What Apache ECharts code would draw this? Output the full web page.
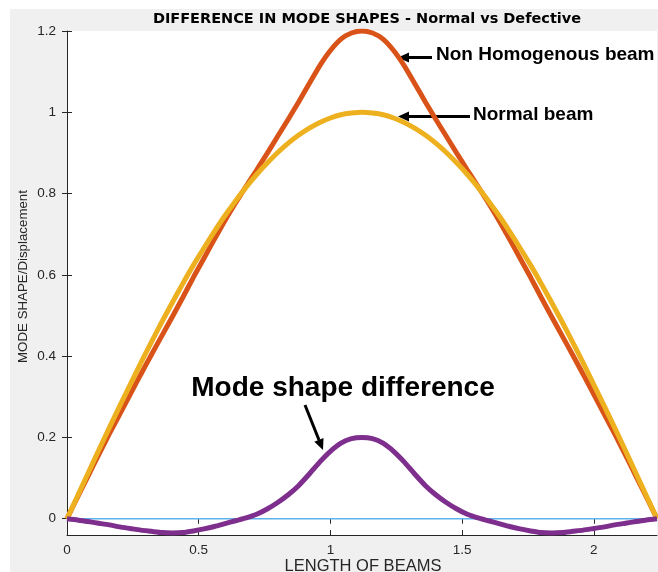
<!DOCTYPE html>
<html>
<head>
<meta charset="utf-8">
<script src="https://cdn.jsdelivr.net/npm/echarts@6/dist/echarts.min.js"></script>
<style>
html,body{margin:0;padding:0;background:#ffffff;}
#chart{width:658px;height:572px;}
</style>
</head>
<body>
<div id="chart"></div>
<script>
// ---- data ----
var xValues = [0,0.04,0.08,0.12,0.16,0.20,0.24,0.28,0.32,0.36,0.40,0.44,0.48,0.52,0.56,0.60,0.64,0.68,0.72,0.76,0.80,0.84,0.88,0.92,0.96,1.00,1.04,1.08,1.12,
               1.16,1.20,1.24,1.28,1.32,1.36,1.40,1.44,1.48,1.52,1.56,1.60,1.64,1.68,1.72,1.76,1.80,1.84,1.88,1.92,1.96,2.00,2.04,2.08,2.12,2.16,2.20,2.24];
var normalBeam = [0,0.056,0.112,0.168,0.223,0.277,0.330,0.383,0.434,0.484,0.532,0.579,0.624,0.666,0.707,0.746,0.782,0.816,0.847,0.875,0.901,0.924,0.944,0.961,0.975,0.986,0.994,0.998,1.000,
                  0.998,0.994,0.986,0.975,0.961,0.944,0.924,0.901,0.875,0.847,0.816,0.782,0.746,0.707,0.666,0.624,0.579,0.532,0.484,0.434,0.383,0.330,0.277,0.223,0.168,0.112,0.056,0];
var nonHomogenousBeam = [0,0.053,0.105,0.157,0.208,0.257,0.306,0.355,0.403,0.450,0.497,0.545,0.594,0.641,0.688,0.734,0.777,0.818,0.858,0.899,0.941,0.983,1.026,1.071,1.115,1.152,1.180,1.195,1.200,
                         1.195,1.180,1.152,1.115,1.071,1.026,0.983,0.941,0.899,0.858,0.818,0.777,0.734,0.688,0.641,0.594,0.545,0.497,0.450,0.403,0.355,0.306,0.257,0.208,0.157,0.105,0.053,0];
var modeShapeDifference = [0,-0.003,-0.007,-0.011,-0.015,-0.020,-0.024,-0.028,-0.031,-0.034,-0.035,-0.034,-0.030,-0.025,-0.019,-0.012,-0.005,0.002,0.011,0.024,0.040,0.059,0.082,0.110,0.140,0.166,0.186,0.197,0.200,
                           0.197,0.186,0.166,0.140,0.110,0.082,0.059,0.040,0.024,0.011,0.002,-0.005,-0.012,-0.019,-0.025,-0.030,-0.034,-0.035,-0.034,-0.031,-0.028,-0.024,-0.020,-0.015,-0.011,-0.007,-0.003,0];
var zeroLine = [0,0,0,0,0,0,0,0,0,0,0,0,0,0,0,0,0,0,0,0,0,0,0,0,0,0,0,0,0,0,0,0,0,0,0,0,0,0,0,0,0,0,0,0,0,0,0,0,0,0,0,0,0,0,0,0,0];
var xTicks = [0,0.5,1,1.5,2];
var yTicks = [0,0.2,0.4,0.6,0.8,1,1.2];
var titleText = 'DIFFERENCE IN MODE SHAPES - Normal vs Defective';
var xLabelText = 'LENGTH OF BEAMS';
var yLabelText = 'MODE SHAPE/Displacement';

function pairs(ys){ return xValues.map(function(x,i){ return [x, ys[i]]; }); }

var FONT = "'Liberation Sans', Arial, sans-serif";
var AX = '#262626';

var chart = echarts.init(document.getElementById('chart'), null, {renderer:'canvas'});
var option = {
  animation:false,
  backgroundColor:'#ffffff',
  grid:{left:67,right:1,top:31,bottom:37,show:true,backgroundColor:'#ffffff',borderWidth:0,containLabel:false},
  xAxis:[{
    type:'value', min:0, max:2.24, position:'bottom',
    axisLine:{show:true,onZero:false,lineStyle:{color:AX,width:1}},
    axisTick:{show:true,inside:true,length:5,customValues:xTicks,lineStyle:{color:AX}},
    axisLabel:{show:true,customValues:xTicks,margin:8,color:AX,fontSize:13.5,fontFamily:FONT},
    splitLine:{show:false}
  },{
    type:'value', min:0, max:2.24, position:'top',
    axisLine:{show:false},
    axisTick:{show:true,inside:true,length:5,customValues:xTicks,lineStyle:{color:AX}},
    axisLabel:{show:false},
    splitLine:{show:false}
  }],
  yAxis:[{
    type:'value', min:-0.04, max:1.2, position:'left',
    axisLine:{show:true,onZero:false,lineStyle:{color:AX,width:1}},
    axisTick:{show:true,inside:true,length:5,customValues:yTicks,lineStyle:{color:AX}},
    axisLabel:{show:true,customValues:yTicks,margin:11,color:AX,fontSize:13.5,fontFamily:FONT},
    splitLine:{show:false}
  },{
    type:'value', min:-0.04, max:1.2, position:'right',
    axisLine:{show:false},
    axisTick:{show:true,inside:true,length:5,customValues:yTicks,lineStyle:{color:AX}},
    axisLabel:{show:false},
    splitLine:{show:false}
  }],
  series:[
    {type:'line',data:pairs(zeroLine),showSymbol:false,symbol:'none',lineStyle:{color:'#5db3ea',width:1.5},z:2},
    {type:'line',data:pairs(nonHomogenousBeam),showSymbol:false,symbol:'none',smooth:0.2,lineStyle:{color:'#D95319',width:5},z:3},
    {type:'line',data:pairs(normalBeam),showSymbol:false,symbol:'none',smooth:0.2,lineStyle:{color:'#EDB120',width:5},z:4},
    {type:'line',data:pairs(modeShapeDifference),showSymbol:false,symbol:'none',smooth:0.2,lineStyle:{color:'#7E2F8E',width:5},z:5}
  ],
  graphic:[
    {type:'rect',z:-10,silent:true,shape:{x:10,y:9,width:648,height:563},style:{fill:'#f0f0f0'}},
    {type:'text',x:367,y:19.5,style:{text:titleText,font:"bold 14.5px 'DejaVu Sans', sans-serif",fill:'#000000',align:'center',verticalAlign:'middle'}},
    {type:'text',x:363,y:566,style:{text:xLabelText,font:'16.5px '+FONT,fill:AX,align:'center',verticalAlign:'middle'}},
    {type:'text',x:23.5,y:276.5,rotation:Math.PI/2,style:{text:yLabelText,font:'13.3px '+FONT,fill:AX,align:'center',verticalAlign:'middle'}},
    {type:'text',x:436,y:55,style:{text:'Non Homogenous beam',font:'bold 19px '+FONT,fill:'#000000',align:'left',verticalAlign:'middle'}},
    {type:'text',x:473,y:115,style:{text:'Normal beam',font:'bold 19px '+FONT,fill:'#000000',align:'left',verticalAlign:'middle'}},
    {type:'text',x:343,y:388,style:{text:'Mode shape difference',font:'bold 28px '+FONT,fill:'#000000',align:'center',verticalAlign:'middle'}},
    {type:'line',shape:{x1:406,y1:57.5,x2:432,y2:57.5},style:{stroke:'#000000',lineWidth:3}},
    {type:'polygon',shape:{points:[[398,57.5],[409,52.5],[409,62.5]]},style:{fill:'#000000'}},
    {type:'line',shape:{x1:406,y1:116.5,x2:470,y2:116.5},style:{stroke:'#000000',lineWidth:3}},
    {type:'polygon',shape:{points:[[398,116.5],[409,111.5],[409,121.5]]},style:{fill:'#000000'}},
    {type:'line',shape:{x1:305,y1:405,x2:319,y2:440},style:{stroke:'#000000',lineWidth:3}},
    {type:'polygon',shape:{points:[[323,450],[314.3,441.7],[323.5,437.9]]},style:{fill:'#000000'}}
  ]
};
chart.setOption(option);
</script>
</body>
</html>
